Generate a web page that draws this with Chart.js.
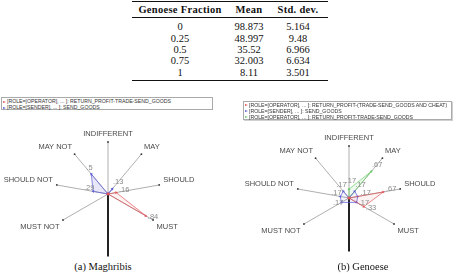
<!DOCTYPE html>
<html>
<head>
<meta charset="utf-8">
<script src="https://cdn.jsdelivr.net/npm/chart.js@4.4.1/dist/chart.umd.min.js"></script>
<style>
  html, body { margin: 0; padding: 0; background: #fff; }
  body { position: relative; width: 453px; height: 276px; overflow: hidden; }
  .cell { position: absolute; width: 120px; margin-left: -60px; height: 12px; margin-top: -6px; line-height: 12px;
          text-align: center; white-space: nowrap; font-family: 'Liberation Serif', serif; font-size: 10.5px; color: #111; }
  .cell.head { font-weight: bold; letter-spacing: 0.3px; }
  .rule { position: absolute; left: 132px; width: 196px; background: #111; }
  .legend { position: absolute; border: 1px solid #aaa; background: #fff; box-sizing: border-box; padding: 0 0 0 1px;
            font-family: 'Liberation Sans', Arial, sans-serif; font-size: 5.2px; color: #333; }
  .legend div { height: 6px; line-height: 6px; white-space: nowrap; }
  .mk { display: inline-block; width: 0; height: 0; border-top: 1.5px solid transparent; border-bottom: 1.5px solid transparent;
        border-left-width: 3px; border-left-style: solid; margin-right: 1px; vertical-align: middle; }
  .caption { position: absolute; top: 260px; width: 120px; margin-left: -60px; text-align: center; line-height: 14px;
             font-family: 'Liberation Serif', serif; font-size: 10.5px; color: #111; }
  canvas { position: absolute; }
</style>
</head>
<body>
<canvas id="maghribis" width="256" height="130" style="left:-20px; top:128px;"></canvas>
<canvas id="genoese" width="256" height="130" style="left:221px; top:132px;"></canvas>
<div class="caption" style="left:103px;">(a) Maghribis</div>
<div class="caption" style="left:363px;">(b) Genoese</div>
<script>
// table
const tableHead = ['Genoese Fraction', 'Mean', 'Std. dev.']
const fractions = [0, 0.25, 0.5, 0.75, 1]
const means = [98.873, 48.997, 35.52, 32.003, 8.11]
const stdDevs = [5.164, 9.48, 6.966, 6.634, 3.501]

// radar spokes (the two unlabelled ones sit between MUST and MUST NOT)
const categories = ['INDIFFERENT', 'MAY', 'SHOULD', 'MUST', 'MUST NOT', 'SHOULD NOT', 'MAY NOT']

// Maghribis
const maghOperatorLabel = '[ROLE=[OPERATOR], ... ]: RETURN_PROFIT-TRADE-SEND_GOODS'
const maghOperator = [0, 0, 0.16, 0.84, 0, 0, 0]
const maghSenderLabel = '[ROLE=[SENDER], ... ]: SEND_GOODS'
const maghSender = [0, 0.13, 0, 0, 0, 0.29, 0.5]

// Genoese
const genCheatLabel = '[ROLE=[OPERATOR], ... ]: RETURN_PROFIT-(TRADE-SEND_GOODS AND CHEAT)'
const genCheat = [0, 0, 0.67, 0.33, 0, 0, 0]
const genSenderLabel = '[ROLE=[SENDER], ... ]: SEND_GOODS'
const genSender = [0, 0.17, 0.17, 0.17, 0.17, 0.17, 0.17]
const genOperatorLabel = '[ROLE=[OPERATOR], ... ]: RETURN_PROFIT-TRADE-SEND_GOODS'
const genOperator = [0.17, 0.67, 0, 0, 0, 0, 0]

const RED = '#e4555a'
const BLUE = '#5c5cd6'
const GREEN = '#66cc66'

// ---- table ----
const colX = [180, 249, 298]
const rowY = [27, 38.5, 50, 61.3, 72.6]
const addCell = (text, x, y, cls) => {
  const d = document.createElement('div')
  d.className = cls
  d.style.left = x + 'px'
  d.style.top = y + 'px'
  d.textContent = text
  document.body.appendChild(d)
}
tableHead.forEach((h, i) => addCell(h, colX[i], 9.5, 'cell head'))
fractions.forEach((f, r) => {
  addCell(String(f), colX[0], rowY[r], 'cell')
  addCell(String(means[r]), colX[1], rowY[r], 'cell')
  addCell(String(stdDevs[r]), colX[2], rowY[r], 'cell')
})
;[[0.5, 1.3], [16.5, 0.8], [79.5, 1.3]].forEach(([y, h]) => {
  const d = document.createElement('div')
  d.className = 'rule'
  d.style.top = y + 'px'
  d.style.height = h + 'px'
  document.body.appendChild(d)
})

// ---- legends ----
const addLegend = (items, box) => {
  const el = document.createElement('div')
  el.className = 'legend'
  Object.assign(el.style, box)
  items.forEach(([label, color]) => {
    const row = document.createElement('div')
    row.innerHTML = '<span class="mk" style="border-left-color:' + color + '"></span>'
    row.appendChild(document.createTextNode(label))
    el.appendChild(row)
  })
  document.body.appendChild(el)
}
addLegend([[maghOperatorLabel, RED], [maghSenderLabel, BLUE]],
  { left: '1px', top: '97px', width: '212px', height: '13px' })
addLegend([[genCheatLabel, RED], [genSenderLabel, BLUE], [genOperatorLabel, GREEN]],
  { left: '243px', top: '100.5px', width: '209px', height: '19px', boxShadow: '1px 1px 0 #d0d0d0' })

// ---- radar charts ----
const spread = (vals, filler) => [...vals.slice(0, 4), filler, filler, ...vals.slice(4)]
const spokeLabels = spread(categories, '')
const stepDeg = 360 / spokeLabels.length

const fmt = (v) => String(Math.round(v * 100) / 100).replace(/^0\./, '.')

const radarDecor = {
  id: 'radarDecor',
  beforeDatasetsDraw(chart, args, opts) {
    const s = chart.scales.r
    const ctx = chart.ctx
    ctx.save()
    // heavy stem downwards
    ctx.strokeStyle = '#222'
    ctx.lineWidth = 2
    ctx.beginPath()
    ctx.moveTo(s.xCenter, s.yCenter)
    ctx.lineTo(s.xCenter, s.yCenter + s.drawingArea * opts.tail)
    ctx.stroke()
    // little dots on spoke tips
    ctx.fillStyle = '#333'
    spokeLabels.forEach((l, i) => {
      if (!l) return
      const p = s.getPointPosition(i, s.drawingArea)
      ctx.beginPath()
      ctx.arc(p.x, p.y, 0.9, 0, Math.PI * 2)
      ctx.fill()
    })
    ctx.restore()
  },
  afterDatasetsDraw(chart) {
    const ctx = chart.ctx
    ctx.save()
    ctx.font = '7.5px "Liberation Sans", Arial, sans-serif'
    ctx.fillStyle = '#8a8a8a'
    ctx.textAlign = 'center'
    ctx.textBaseline = 'middle'
    chart.data.datasets.forEach((ds, di) => {
      chart.getDatasetMeta(di).data.forEach((pt, i) => {
        const v = ds.data[i]
        if (!v) return
        const a = (i * stepDeg - 90) * Math.PI / 180
        ctx.fillText(fmt(v), pt.x + Math.cos(a) * 6 + 2, pt.y + Math.sin(a) * 6 - 2)
      })
    })
    ctx.restore()
  }
}

const makeDataset = (label, values, color, fill) => ({
  label,
  data: spread(values, null),
  borderColor: color,
  backgroundColor: fill,
  pointBackgroundColor: color,
  pointBorderWidth: 0,
  pointRadius: 1.7,
  pointStyle: 'triangle',
  pointRotation: (c) => c.dataIndex * stepDeg,
  borderWidth: 0.7,
  spanGaps: true,
  fill: true
})

const makeRadar = (id, datasets, tail) => new Chart(document.getElementById(id), {
  type: 'radar',
  data: { labels: spokeLabels, datasets },
  options: {
    responsive: false,
    animation: false,
    plugins: { legend: { display: false }, tooltip: { enabled: false }, radarDecor: { tail } },
    scales: {
      r: {
        min: 0,
        max: 1,
        ticks: { display: false },
        grid: { display: false },
        angleLines: { color: (c) => (c.label ? '#9a9a9a' : 'rgba(0,0,0,0)'), lineWidth: 0.8 },
        pointLabels: { font: { family: 'Liberation Sans', size: 7.5 }, color: '#4a4a4a', padding: 4 }
      }
    }
  },
  plugins: [radarDecor]
})

makeRadar('maghribis', [
  makeDataset(maghOperatorLabel, maghOperator, RED, 'rgba(228,85,90,0.07)'),
  makeDataset(maghSenderLabel, maghSender, BLUE, 'rgba(92,92,214,0.15)')
], 1.2)

makeRadar('genoese', [
  makeDataset(genCheatLabel, genCheat, RED, 'rgba(228,85,90,0.07)'),
  makeDataset(genSenderLabel, genSender, BLUE, 'rgba(92,92,214,0.08)'),
  makeDataset(genOperatorLabel, genOperator, GREEN, 'rgba(102,204,102,0.1)')
], 1.03)
</script>
</body>
</html>
